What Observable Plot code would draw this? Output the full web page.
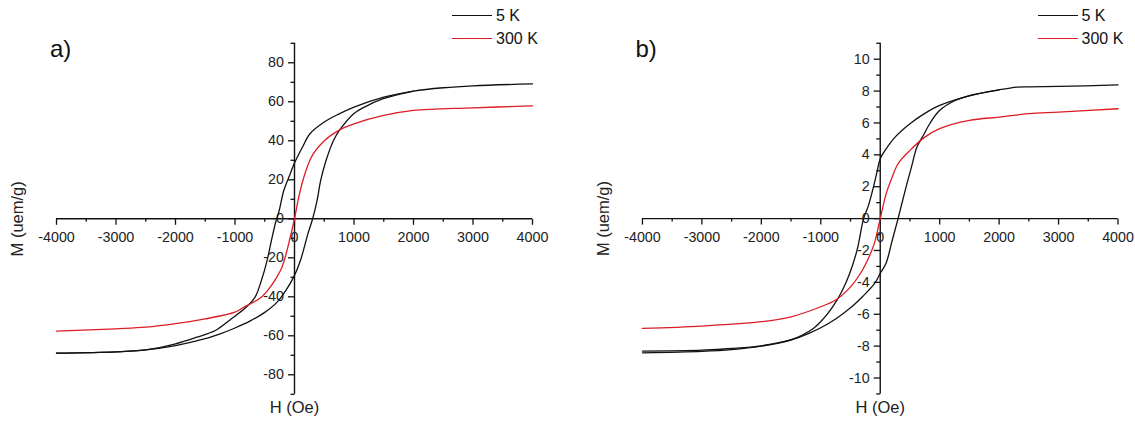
<!DOCTYPE html>
<html><head><meta charset="utf-8">
<script src="https://cdn.jsdelivr.net/npm/d3@7"></script>
<script src="https://cdn.jsdelivr.net/npm/@observablehq/plot@0.6"></script>
<style>
body{margin:0;background:#fff;font-family:"Liberation Sans",Arial,sans-serif;}
#wrap{position:relative;width:1135px;height:421px;overflow:hidden;background:#fff;}
.panel{position:absolute;top:0;}
.letter{position:absolute;font-size:24px;line-height:24px;color:#111;}
.leg{position:absolute;font-size:16px;line-height:16px;color:#111;white-space:nowrap;}
.ln{position:absolute;height:0;border-top:1.5px solid;}
</style></head><body><div id="wrap"></div>
<script>
// ---- shared axis values ----
const xTicks = [-4000,-3000,-2000,-1000,0,1000,2000,3000,4000];
const xMinor = [-3500,-2500,-1500,-500,500,1500,2500,3500];
const seriesNames = ["5 K","300 K"];
const seriesColors = ["#111111","#dd1c24"];
const panelLetters = ["a)","b)"];

// ---- panel a ----
const aYTicks = [-80,-60,-40,-20,0,20,40,60,80];
const aYMinor = [-90,-70,-50,-30,-10,10,30,50,70,90];
const a5kDownH = [4000,3000,2500,2000,1500,1000,750,500,260,135,0,-95,-180,-264,-310,-380,-450,-540,-660,-800,-1090,-1330,-1640,-2000,-2500,-3000,-4000];
const a5kDownM = [69.2,68.2,67.2,65.5,62.4,57.3,53.8,49.6,43.6,36.8,28.6,21.3,14.5,3.4,-1,-10,-20,-30,-40,-45,-52,-57.3,-60.7,-64.1,-67.2,-68.2,-68.9];
const a5kUpH = [-4000,-3000,-2500,-2000,-1500,-1250,-1000,-750,-500,-300,-150,0,100,225,305,380,440,530,655,775,990,1175,1480,2000];
const a5kUpM = [-68.9,-68.2,-67.2,-65.0,-61.5,-59.0,-56.0,-52.5,-48.0,-43.0,-37.0,-29.0,-21.4,-7.7,0,9.4,19.7,29.9,40.2,46.2,53.8,57.3,61.5,65.5];
const a300H = [-4000,-3000,-2500,-2000,-1500,-1000,-860,-570,-420,-300,-220,-150,-80,0,60,135,225,320,500,750,1000,1500,2000,3000,4000];
const a300M = [-57.6,-56.4,-55.6,-53.8,-51.3,-47.9,-45.5,-40.5,-35.5,-30,-25.5,-19,-10.5,0,9.5,19,27.5,33.5,40,45.5,48.7,53,55.6,56.9,57.9];

// ---- panel b ----
const bYTicks = [-10,-8,-6,-4,-2,0,2,4,6,8,10];
const bYMinor = [-11,-9,-7,-5,-3,-1,1,3,5,7,9,11];
const b5kDownH = [4000,3000,2500,2300,2000,1500,1000,750,500,250,100,0,-50,-100,-200,-280,-390,-514,-636,-728,-881,-1003,-1125,-1309,-1500,-2000,-2500,-3000,-4000];
const b5kDownM = [8.39,8.29,8.27,8.25,8.08,7.7,7.1,6.6,5.95,5.11,4.38,3.76,3.0,2.2,0.8,0,-1.98,-3.44,-4.49,-5.11,-5.95,-6.47,-6.89,-7.3,-7.6,-7.98,-8.15,-8.25,-8.31];
const b5kUpH = [-4000,-3000,-2500,-2000,-1500,-1200,-1000,-750,-500,-300,-100,0,98,202,300,434,526,618,740,832,997,1260,1500,2000];
const b5kUpM = [-8.42,-8.33,-8.22,-8.0,-7.62,-7.2,-6.85,-6.3,-5.6,-4.9,-4.1,-3.44,-2.8,-1.36,0,1.98,3.24,4.49,5.32,5.95,6.78,7.41,7.72,8.08];
const b300H = [-4000,-3000,-2000,-1500,-1000,-750,-500,-300,-200,-100,0,100,200,300,500,750,1000,1500,2000,2500,3000,4000];
const b300M = [-6.89,-6.74,-6.47,-6.16,-5.53,-5.11,-4.28,-3.24,-2.5,-1.57,0,1.57,2.6,3.44,4.28,5.11,5.64,6.16,6.37,6.58,6.68,6.89];

const zipPts = (H, M) => H.map((h, i) => ({H: h, M: M[i]}));

const FONT = '"Liberation Sans", Arial, sans-serif';
const INK = "#111";
const tickDown = {draw(c){c.moveTo(0,0);c.lineTo(0,6);}};
const minorDown = {draw(c){c.moveTo(0,0);c.lineTo(0,3);}};
const tickLeft = {draw(c){c.moveTo(0,0);c.lineTo(-6.5,0);}};
const minorLeft = {draw(c){c.moveTo(0,0);c.lineTo(-4,0);}};

function panel(cfg) {
  const lines = cfg.branches.map(b => Plot.line(zipPts(b.H, b.M), {
    x: "H", y: "M", stroke: b.color, strokeWidth: 1.3, curve: "catmull-rom"
  }));
  return Plot.plot({
    width: 550, height: 421,
    marginTop: 42.8, marginBottom: 27.2, marginLeft: 56, marginRight: 18,
    x: {domain: [-4000, 4000], axis: null},
    y: {domain: cfg.yDomain, axis: null},
    style: {fontFamily: FONT, fontSize: "14px", color: INK, background: "transparent", overflow: "visible"},
    marks: [
      Plot.ruleY([0], {stroke: INK, strokeWidth: 1.4}),
      Plot.ruleX([0], {stroke: INK, strokeWidth: 1.4}),
      Plot.dot(xTicks, {x: d => d, y: 0, r: 1, symbol: tickDown, stroke: INK, fill: "none", strokeWidth: 1.3}),
      Plot.dot(xMinor, {x: d => d, y: 0, r: 1, symbol: minorDown, stroke: INK, fill: "none", strokeWidth: 1.3}),
      Plot.dot(cfg.yTicks, {x: 0, y: d => d, r: 1, symbol: tickLeft, stroke: INK, fill: "none", strokeWidth: 1.3}),
      Plot.dot(cfg.yMinor, {x: 0, y: d => d, r: 1, symbol: minorLeft, stroke: INK, fill: "none", strokeWidth: 1.3}),
      Plot.text(xTicks, {x: d => d, y: 0, dy: 18.5, text: d => String(d), fill: "#222", fontSize: 14.3}),
      Plot.text(cfg.yTicks, {x: 0, y: d => d, dx: -10.5, textAnchor: "end", text: d => String(d), fill: "#222", fontSize: 14.3}),
      ...lines,
      Plot.text(["H (Oe)"], {frameAnchor: "bottom", dy: 13.5, lineAnchor: "middle", textAnchor: "middle", fontSize: 16.5, fill: "#222"}),
      Plot.text(["M (uem/g)"], {frameAnchor: "left", dx: -39, rotate: -90, lineAnchor: "middle", textAnchor: "middle", fontSize: 16.5, fill: "#222"})
    ]
  });
}

const wrap = document.getElementById("wrap");
const panels = [
  {left: 0, yDomain: [-90, 90], yTicks: aYTicks, yMinor: aYMinor, branches: [
    {H: a5kDownH, M: a5kDownM, color: seriesColors[0]},
    {H: a5kUpH, M: a5kUpM, color: seriesColors[0]},
    {H: a300H, M: a300M, color: seriesColors[1]}
  ]},
  {left: 585.5, yDomain: [-11, 11], yTicks: bYTicks, yMinor: bYMinor, branches: [
    {H: b5kDownH, M: b5kDownM, color: seriesColors[0]},
    {H: b5kUpH, M: b5kUpM, color: seriesColors[0]},
    {H: b300H, M: b300M, color: seriesColors[1]}
  ]}
];
panels.forEach((p, k) => {
  const div = document.createElement("div");
  div.className = "panel";
  div.style.left = p.left + "px";
  div.appendChild(panel(p));
  wrap.appendChild(div);
  // panel letter
  const lt = document.createElement("div");
  lt.className = "letter";
  lt.style.left = (p.left + 50) + "px";
  lt.style.top = "37px";
  lt.textContent = panelLetters[k];
  wrap.appendChild(lt);
  // legend
  seriesNames.forEach((name, j) => {
    const cy = j === 0 ? 15.5 : 38.5;
    const ln = document.createElement("div");
    ln.className = "ln";
    ln.style.left = (p.left + 452) + "px";
    ln.style.width = "40px";
    ln.style.top = (cy - 0.75) + "px";
    ln.style.borderTopColor = seriesColors[j];
    wrap.appendChild(ln);
    const tx = document.createElement("div");
    tx.className = "leg";
    tx.style.left = (p.left + 496) + "px";
    tx.style.top = (cy - 7.8) + "px";
    tx.textContent = name;
    wrap.appendChild(tx);
  });
});
</script></body></html>
